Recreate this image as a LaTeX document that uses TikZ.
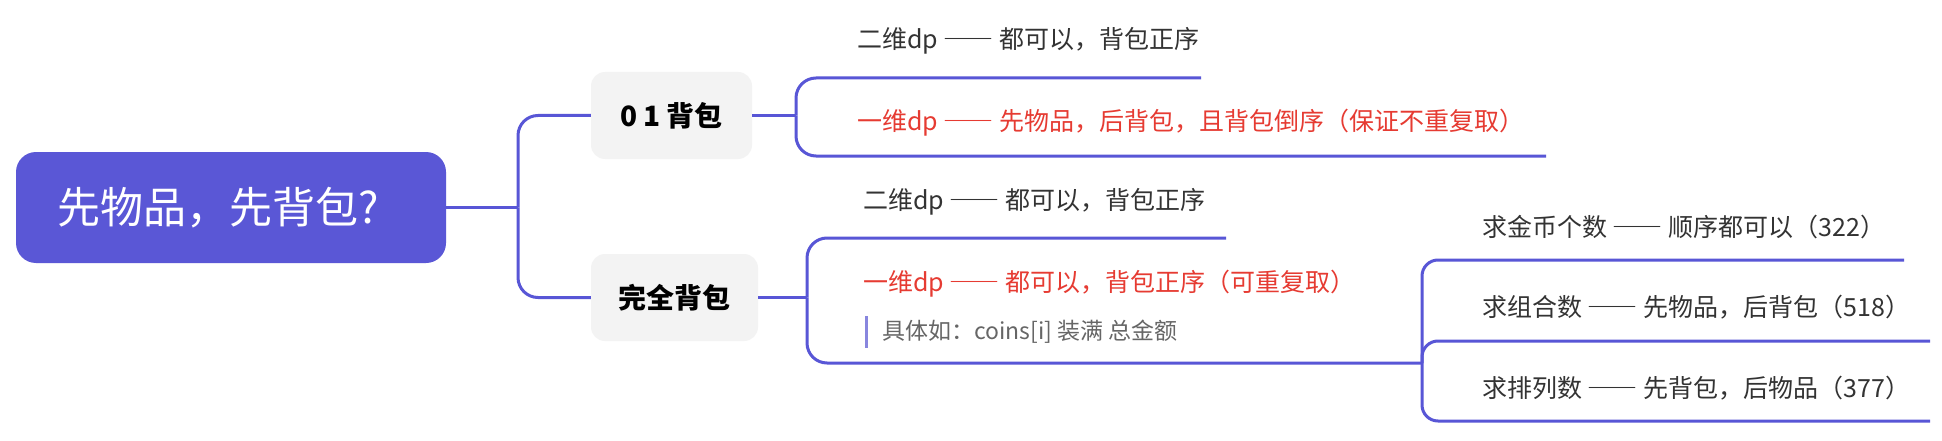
\documentclass[tikz,border=0pt]{standalone}
\usepackage{fontspec}
\setmainfont{Noto Sans CJK SC}
\newcommand{\dashes}{{\addfontfeatures{RawFeature=+fwid}——}}
\definecolor{lineC}{HTML}{5856D6}
\definecolor{rootC}{HTML}{5A57D6}
\definecolor{boxC}{HTML}{F3F3F3}
\definecolor{txtC}{HTML}{333333}
\definecolor{redC}{HTML}{E63B32}
\definecolor{noteC}{HTML}{666666}
\definecolor{barC}{HTML}{8886DE}
\tikzset{
  conn/.style={draw=lineC, line width=3pt, rounded corners=20pt},
  conn3/.style={draw=lineC, line width=3pt, rounded corners=16pt},
  rootbox/.style={fill=rootC, text=white, rounded corners=20pt, minimum width=430pt, minimum height=111pt, inner sep=0pt, font=\fontsize{43}{50}\selectfont},
  catbox/.style={fill=boxC, text=black, rounded corners=14pt, minimum height=87pt, inner sep=0pt, font=\fontsize{28}{33}\selectfont\bfseries},
  leaf/.style={anchor=west, inner sep=0pt, text=txtC, font=\fontsize{25}{30}\selectfont},
  leafred/.style={leaf, text=redC},
  notetxt/.style={anchor=west, inner sep=0pt, text=noteC, font=\fontsize{23}{28}\selectfont},
}
\begin{document}
\begin{tikzpicture}[x=1pt,y=-1pt]
\useasboundingbox (0,0) rectangle (1942,441);
\fill[white] (0,0) rectangle (1942,441);
% nodes
\node[rootbox] (root) at (231,207.5) {先物品，先背包?\kern26pt};
\node[catbox, minimum width=161pt] (b1) at (671.5,115.5) {0 1 背包};
\node[catbox, minimum width=167pt] (b2) at (674.5,297.5) {完全背包};
% level 1
\coordinate (j0) at (518,207.5);
\draw[conn] (root.east) -- (j0);
\draw[conn] (j0) |- (b1.west);
\draw[conn] (j0) |- (b2.west);
% 0 1 bag
\coordinate (j1) at (796,115.5);
\coordinate (e11) at (1201,78);
\coordinate (e12) at (1546,156);
\draw[conn] (b1.east) -- (j1);
\draw[conn] (j1) |- (e11);
\draw[conn] (j1) |- (e12);
\node[leaf] (t11) at (857,41) {二维dp \dashes{} 都可以，背包正序};
\node[leafred] (t12) at (857,123) {一维dp \dashes{} 先物品，后背包，且背包倒序（保证不重复取）};
% complete bag
\coordinate (j2) at (807,297.5);
\coordinate (e21) at (1226,238);
\coordinate (j3) at (1422,363);
\draw[conn] (b2.east) -- (j2);
\draw[conn] (j2) |- (e21);
\draw[conn] (j2) |- (j3);
\node[leaf] (t21) at (863,202) {二维dp \dashes{} 都可以，背包正序};
\node[leafred] (t22) at (863,284) {一维dp \dashes{} 都可以，背包正序（可重复取）};
\coordinate (n1) at (866,316);
\coordinate (n2) at (866,348);
\draw[barC, line width=3pt] (n1) -- (n2);
\node[notetxt] (t23) at (882,332) {具体如：coins[i] 装满 总金额};
% level 3
\coordinate (e31) at (1904,260);
\coordinate (e32) at (1930,341);
\coordinate (e33) at (1930,421);
\draw[conn3] (j3) |- (e31);
\draw[conn3] (j3) |- (e32);
\draw[conn3] (j3) |- (e33);
\node[leaf] (t31) at (1482,227) {求金币个数 \dashes{} 顺序都可以（322）};
\node[leaf] (t32) at (1482,307) {求组合数 \dashes{} 先物品，后背包（518）};
\node[leaf] (t33) at (1482,388) {求排列数 \dashes{} 先背包，后物品（377）};
\end{tikzpicture}
\end{document}
